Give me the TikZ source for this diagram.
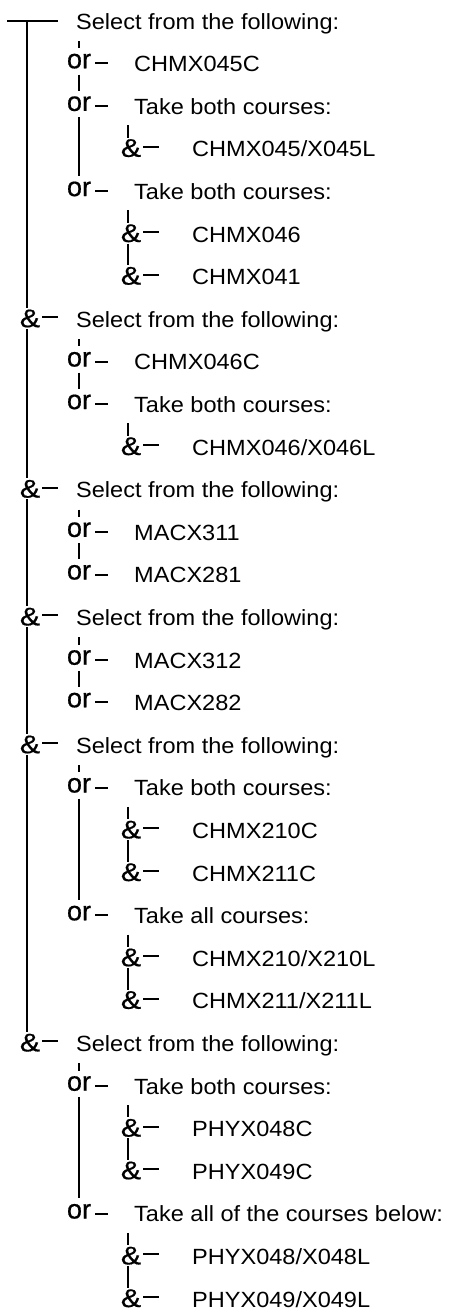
\documentclass[tikz,border=0pt]{standalone}
\usepackage{fontspec}
\setmainfont{Liberation Sans}
\newfontfamily\rowfont[FakeStretch=1.07]{Liberation Sans}
\newfontfamily\orfont[FakeBold=0.6]{Liberation Sans}
\newfontfamily\ampfont[FakeStretch=1.2, FakeBold=0.6]{Liberation Sans}
\usetikzlibrary{calc}
\tikzset{
	rowtext/.style={anchor=base west, inner sep=0pt, font=\rowfont\fontsize{22}{22}\selectfont},
	orglyph/.style={anchor=base, inner sep=0pt, font=\orfont\fontsize{27}{27}\selectfont, text height=20pt, text depth=6pt},
	andglyph/.style={anchor=base, inner sep=0pt, font=\ampfont\fontsize{25.5}{25.5}\selectfont, text height=19pt, text depth=1.5pt},
	tree/.style={line width=2pt}
}

\begin{document}
\begin{tikzpicture}[x=1pt, y=-1pt]
	% IMAGE SIZE
	\useasboundingbox (0,0) rectangle (455,1312);
	\newcommand{\rowH}{42.6}
	\newcommand{\rowB}{29}
	
	% Texts of the rows
	\foreach \r/\l/\t in {0/0/Select from the following:, 1/1/CHMX045C, 2/1/Take both courses:,
		3/2/{CHMX045/X045L}, 4/1/Take both courses:, 5/2/CHMX046, 6/2/CHMX041,
		7/0/Select from the following:, 8/1/CHMX046C, 9/1/Take both courses:, 10/2/{CHMX046/X046L},
		11/0/Select from the following:, 12/1/MACX311, 13/1/MACX281,
		14/0/Select from the following:, 15/1/MACX312, 16/1/MACX282,
		17/0/Select from the following:, 18/1/Take both courses:, 19/2/CHMX210C, 20/2/CHMX211C,
		21/1/Take all courses:, 22/2/{CHMX210/X210L}, 23/2/{CHMX211/X211L},
		24/0/Select from the following:, 25/1/Take both courses:, 26/2/PHYX048C, 27/2/PHYX049C,
		28/1/Take all of the courses below:, 29/2/{PHYX048/X048L}, 30/2/{PHYX049/X049L}}
	{
		\pgfmathsetmacro{\tx}{{76,134,192}[\l]}
		\node[rowtext] (t\r) at (\tx, {\rowB+\rowH*\r}) {\t};
	}
	
	% or glyphs
	\foreach \r in {1,2,4,8,9,12,13,15,16,18,21,25,28}
	{
		\node[orglyph] (g\r) at (79, {\rowB+\rowH*\r-3.3}) {or};
		\draw[tree] ([xshift=4pt, yshift=5pt]g\r.base east) -- ++(13,0);
	}
	
	% and glyphs
	\foreach \r/\l in {3/2, 5/2, 6/2, 7/0, 10/2, 11/0, 14/0, 17/0, 19/2, 20/2,
		22/2, 23/2, 24/0, 26/2, 27/2, 29/2, 30/2}
	{
		\pgfmathsetmacro{\gx}{{30,0,131}[\l]}
		\node[andglyph] (g\r) at (\gx, {\rowB+\rowH*\r}) {\&};
		\draw[tree] ([xshift=2pt, yshift=10pt]g\r.base east) -- ++(16,0);
	}
	
	% Main line
	\coordinate (barL) at (7,21);
	\coordinate (barR) at (58,21);
	\coordinate (g0) at (27,21);
	\draw[tree] (barL) -- (barR);
	\draw[tree] (g0) -- ([xshift=-3pt]g7.north);
	\foreach \a/\b in {7/11, 11/14, 14/17, 17/24}
		\draw[tree] ([xshift=-3pt]g\a.south) -- ([xshift=-3pt]g\b.north);
	
	% or lines
	\foreach \p/\a in {0/1, 7/8, 11/12, 14/15, 17/18, 24/25}
	{
		\coordinate (s\p) at (79, {\rowB+\rowH*\p+12});
		\draw[tree] (s\p) -- (g\a.north);
	}
	\foreach \a/\b in {1/2, 2/4, 8/9, 12/13, 15/16, 18/21, 25/28}
		\draw[tree] (g\a.south) -- (g\b.north);
	
	% and lines
	\foreach \p/\a in {2/3, 4/5, 9/10, 18/19, 21/22, 25/26, 28/29}
	{
		\coordinate (s\p) at (128, {\rowB+\rowH*\p+11});
		\draw[tree] (s\p) -- ([xshift=-3pt]g\a.north);
	}
	\foreach \a/\b in {5/6, 19/20, 22/23, 26/27, 29/30}
		\draw[tree] ([xshift=-3pt]g\a.south) -- ([xshift=-3pt]g\b.north);
\end{tikzpicture}
\end{document}
